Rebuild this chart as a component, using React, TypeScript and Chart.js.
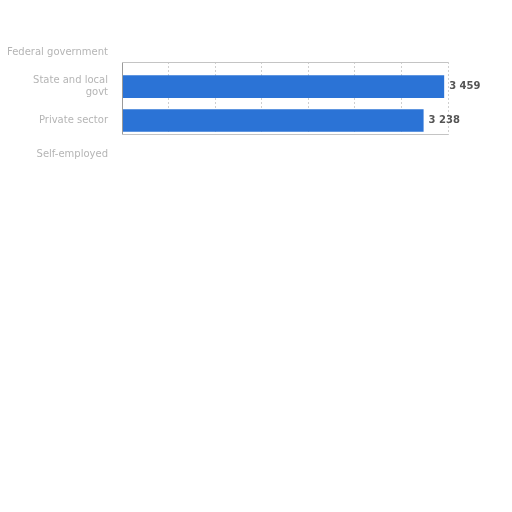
import React, { useEffect, useRef } from "react";
import { Chart, registerables } from "chart.js";

Chart.register(...registerables);

const categories: (string | string[])[] = [
  "Federal government",
  ["State and local", "govt"],
  "Private sector",
  "Self-employed",
];
const values: (number | null)[] = [null, 3459, 3238, null];
const valueLabels: string[] = ["", "3 459", "3 238", ""];
const xTicks: number[] = [0, 500, 1000, 1500, 2000, 2500, 3000, 3500];

const labelsPlugin = {
  id: "customLabels",
  afterDraw(chart: any) {
    const { ctx } = chart;
    const yScale = chart.scales.y;
    const area = chart.chartArea;
    ctx.save();
    ctx.font = "10px 'DejaVu Sans'";
    ctx.fillStyle = "#b5b5b5";
    ctx.textAlign = "right";
    ctx.textBaseline = "middle";
    categories.forEach((c, i) => {
      const y = yScale.getPixelForValue(i);
      const lines = Array.isArray(c) ? c : [c];
      const lh = 12;
      lines.forEach((ln, j) => {
        ctx.fillText(ln, area.left - 14, y - ((lines.length - 1) * lh) / 2 + j * lh);
      });
    });
    ctx.font = "bold 10px 'DejaVu Sans'";
    ctx.fillStyle = "#555";
    ctx.textAlign = "left";
    const meta = chart.getDatasetMeta(0);
    meta.data.forEach((bar: any, i: number) => {
      if (values[i] == null) return;
      ctx.fillText(valueLabels[i], bar.x + 5, bar.y);
    });
    ctx.strokeStyle = "#9a9a9a";
    ctx.lineWidth = 1;
    ctx.beginPath();
    ctx.moveTo(area.left + 0.5, area.top);
    ctx.lineTo(area.left + 0.5, area.bottom);
    ctx.stroke();
    ctx.strokeStyle = "#c4c4c4";
    ctx.beginPath();
    ctx.moveTo(area.left, area.top + 0.5);
    ctx.lineTo(area.right, area.top + 0.5);
    ctx.moveTo(area.left, area.bottom - 0.5);
    ctx.lineTo(area.right, area.bottom - 0.5);
    ctx.stroke();
    ctx.restore();
  },
};

export default function App() {
  const ref = useRef<HTMLCanvasElement>(null);
  useEffect(() => {
    if (!ref.current) return;
    const chart = new Chart(ref.current, {
      type: "bar",
      data: {
        datasets: [
          {
            data: values.map((v, i) => ({ x: v as any, y: i })),
            backgroundColor: "#2b73d6",
            borderWidth: 0,
            barPercentage: 0.67,
            categoryPercentage: 1,
          },
        ],
      },
      options: {
        indexAxis: "y",
        animation: false,
        responsive: false,
        layout: { padding: { top: 54, left: 114, right: 56, bottom: 369 } },
        plugins: { legend: { display: false }, tooltip: { enabled: false } },
        scales: {
          x: {
            type: "linear",
            min: 0,
            max: 3500,
            afterBuildTicks: (s: any) => {
              s.ticks = xTicks.map((v) => ({ value: v }));
            },
            ticks: { display: false },
            border: { display: false, dash: [2, 2] },
            grid: { color: "#cfcfcf", drawTicks: false, lineWidth: 1, tickLength: 0 },
          },
          y: {
            type: "linear",
            display: false,
            offset: false,
            reverse: true,
            min: 0.27,
            max: 2.43,
            afterBuildTicks: (s: any) => {
              s.ticks = [{ value: 1 }, { value: 2 }];
            },
          },
        },
      },
      plugins: [labelsPlugin],
    } as any);
    return () => chart.destroy();
  }, []);
  return <canvas ref={ref} width={496} height={496} style={{ display: "block" }} />;
}
